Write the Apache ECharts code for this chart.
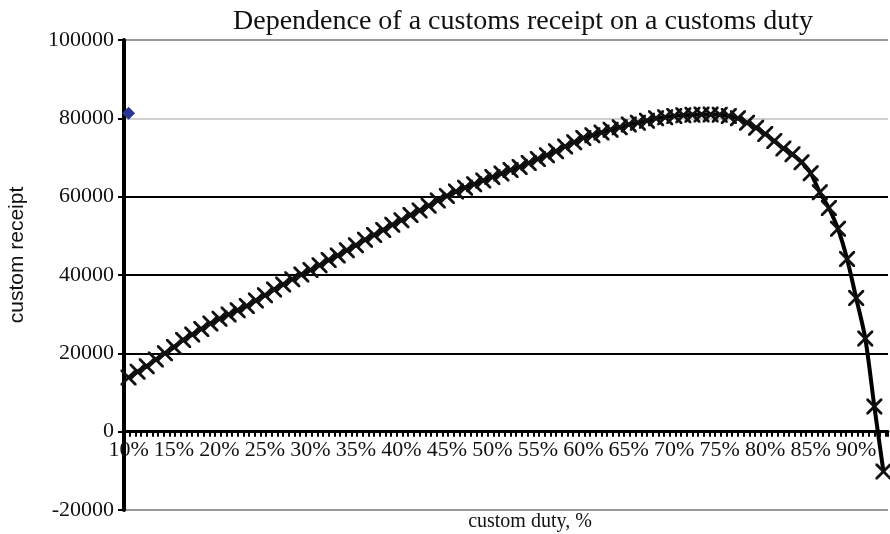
<!DOCTYPE html>
<html>
<head>
<meta charset="utf-8">
<script src="https://cdn.jsdelivr.net/npm/echarts@6/dist/echarts.min.js"></script>
<style>
    html, body {margin: 0; padding: 0; background: #fff;}
    #chart {width: 890px; height: 534px;}
</style>
</head>
<body>
<div id="chart"></div>
<script>
// custom duty, % (one category per percent)
const duty = [10, 11, 12, 13, 14, 15, 16, 17, 18, 19, 20, 21, 22, 23, 24, 25, 26, 27, 28, 29,
    30, 31, 32, 33, 34, 35, 36, 37, 38, 39, 40, 41, 42, 43, 44, 45, 46, 47, 48, 49,
    50, 51, 52, 53, 54, 55, 56, 57, 58, 59, 60, 61, 62, 63, 64, 65, 66, 67, 68, 69,
    70, 71, 72, 73, 74, 75, 76, 77, 78, 79, 80, 81, 82, 83, 84, 85, 86, 87, 88, 89,
    90, 91, 92, 93];

// custom receipt
const receipt = [13800, 15300, 16700, 18400, 20000, 21600, 23400, 24800, 26200, 27600,
    28800, 29900, 31000, 32100, 33500, 34800, 36300, 37600, 38900, 40100,
    41300, 42500, 43800, 45000, 46300, 47600, 49000, 50200, 51500, 52800,
    54000, 55300, 56500, 57700, 59000, 60200, 61300, 62300, 63200, 64100,
    65000, 65900, 66800, 67600, 68600, 69600, 70600, 71600, 72800, 73900,
    75000, 75700, 76400, 77100, 77700, 78400, 78900, 79400, 80000, 80300,
    80600, 80800, 80900, 81000, 81000, 80900, 80600, 80000, 78900, 77600,
    76000, 74200, 72300, 70800, 68800, 66000, 61100, 57100, 51800, 44100,
    34100, 23800, 6400, -10200];

// the single blue point at the first category
const maxPoint = [81300];

const yTicks = {min: -20000, max: 100000, step: 20000};

const crossPath = 'path://M0,0 L2.5,0 L10,7.5 L17.5,0 L20,0 L20,2.5 L12.5,10 L20,17.5 L20,20 L17.5,20 L10,12.5 L2.5,20 L0,20 L0,17.5 L7.5,10 L0,2.5 Z';

// pixel distance of the zero line above the bottom of the plot
const zeroOffset = -470 * (0 - yTicks.min) / (yTicks.max - yTicks.min);

let chart = echarts.init(document.getElementById('chart'), null, {renderer: 'canvas'});
chart.setOption({
    animation: false,
    title: {
        text: 'Dependence of a customs receipt on a customs duty',
        left: 228,
        top: 3,
        textStyle: {
            fontFamily: 'Liberation Serif',
            fontWeight: 'normal',
            fontSize: 28,
            color: '#111'
        }
    },
    grid: {
        left: 124,
        right: 2,
        top: 40,
        bottom: 24,
        containLabel: false,
        outerBoundsMode: 'none'
    },
    xAxis: [
        {
            type: 'category',
            data: duty,
            boundaryGap: true,
            position: 'bottom',
            offset: zeroOffset,
            name: 'custom duty, %',
            nameLocation: 'middle',
            nameGap: 80,
            nameTextStyle: {
                fontFamily: 'Liberation Serif',
                fontSize: 20,
                color: '#111',
                padding: [0, 0, 0, 48]
            },
            axisLine: {onZero: false, lineStyle: {color: '#000', width: 3}},
            axisTick: {show: false},
            axisLabel: {
                interval: 4,
                margin: 8,
                fontFamily: 'Liberation Serif',
                fontSize: 22,
                color: '#111',
                formatter: function (v) {
                    return v + '%';
                }
            },
            splitLine: {show: false}
        },
        {
            // tick marks only, sitting on the zero line
            type: 'value',
            position: 'bottom',
            offset: zeroOffset,
            min: 0,
            max: 134.4,
            interval: 1,
            axisLine: {show: false, onZero: false},
            axisTick: {show: true, length: 5, lineStyle: {color: '#000', width: 2}},
            axisLabel: {show: false},
            splitLine: {show: false}
        }
    ],
    yAxis: {
        type: 'value',
        min: yTicks.min,
        max: yTicks.max,
        interval: yTicks.step,
        name: 'custom receipt',
        nameLocation: 'middle',
        nameGap: 96,
        nameTextStyle: {
            fontFamily: 'Liberation Sans',
            fontSize: 21,
            color: '#111',
            padding: [0, 0, 0, 40]
        },
        axisLine: {show: true, onZero: false, lineStyle: {color: '#000', width: 4}},
        axisTick: {show: true, length: 6, lineStyle: {color: '#000', width: 2}},
        axisLabel: {
            margin: 10,
            fontFamily: 'Liberation Serif',
            fontSize: 22,
            color: '#111',
            formatter: function (v) {
                return String(v);
            }
        },
        splitLine: {
            show: true,
            lineStyle: {
                width: 2,
                color: ['#999', '#000', '#000', '#000', '#000', '#cfcfcf', '#999']
            }
        }
    },
    series: [
        {
            name: 'custom receipt',
            type: 'line',
            data: receipt,
            smooth: 0.3,
            symbol: crossPath,
            symbolSize: 16,
            showAllSymbol: true,
            lineStyle: {color: '#000', width: 4},
            itemStyle: {color: '#111'},
            z: 3
        },
        {
            name: 'max',
            type: 'line',
            data: maxPoint,
            symbol: 'diamond',
            symbolSize: 13,
            lineStyle: {width: 0},
            itemStyle: {color: '#2b3592'},
            z: 4
        }
    ]
});
</script>
</body>
</html>
